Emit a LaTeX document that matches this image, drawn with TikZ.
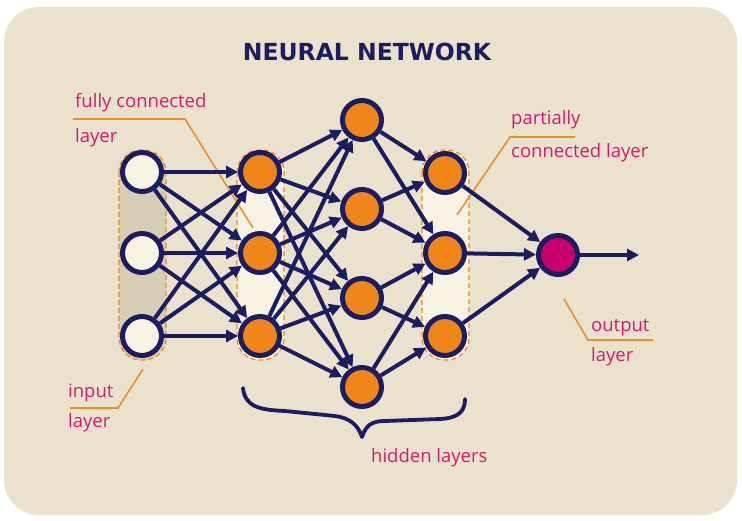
\documentclass[tikz,border=0pt]{standalone}
\usepackage{fontspec}
\setmainfont{Open Sans}
\newfontfamily\titlefont{DejaVu Sans}
\usetikzlibrary{arrows.meta}
\definecolor{bgc}{HTML}{EAE2CD}
\definecolor{navy}{HTML}{1B1D63}
\definecolor{orng}{HTML}{F0861A}
\definecolor{cream}{HTML}{F8F2E2}
\definecolor{bandin}{HTML}{D6CEB4}
\definecolor{outc}{HTML}{C8006E}
\definecolor{pink}{HTML}{D6196E}
\definecolor{oline}{HTML}{F08C28}
\tikzset{
  neuron/.style={circle, draw=navy, line width=5pt, minimum size=39pt, inner sep=0pt},
  innode/.style={neuron, fill=cream},
  hidnode/.style={neuron, fill=orng},
  outnode/.style={neuron, fill=outc},
  edge/.style={draw=navy, line width=4pt, -{Triangle[length=12pt,width=12pt]}},
  band/.style={draw=orng, line width=1.2pt, dash pattern=on 5pt off 3pt, rounded corners=22pt},
  lbl/.style={text=pink, font=\fontsize{18.5}{20}\selectfont, inner sep=0pt, anchor=base west},
  pointer/.style={draw=oline, line width=1.6pt},
  bracestyle/.style={draw=navy, line width=3.8pt, line cap=round, line join=round}
}
\begin{document}
\begin{tikzpicture}[x=1pt,y=-1pt]
\useasboundingbox (0,0) rectangle (742,521);
\fill[white] (0,0) rectangle (742,521);
\fill[bgc, rounded corners=35pt] (4,7) rectangle (737,515);
% title
\node[text=navy, font=\titlefont\bfseries\fontsize{23.5}{28}\selectfont, inner sep=0pt] (title) at (367,52) {NEURAL NETWORK};
% bands
\draw[band, fill=bandin] (119,150) rectangle (166,360);
\draw[band, fill=cream] (237,150) rectangle (284,360);
\draw[band, fill=cream] (422,150) rectangle (469,360);
% pointers
\draw[pointer] (73,119) -- (185,119) -- (253,228);
\draw[pointer] (70,408) -- (118,408) -- (143,369);
\draw[pointer] (575,137) -- (510,137) -- (457,215);
\draw[pointer] (564,299) -- (588,340) -- (653,340);
% nodes
\node[innode] (i1) at (142,172) {};
\node[innode] (i2) at (142,253) {};
\node[innode] (i3) at (142,336) {};
\node[hidnode] (a1) at (260,172) {};
\node[hidnode] (a2) at (260,253) {};
\node[hidnode] (a3) at (260,336) {};
\node[hidnode] (b1) at (362,120) {};
\node[hidnode] (b2) at (362,209) {};
\node[hidnode] (b3) at (362,298) {};
\node[hidnode] (b4) at (362,387) {};
\node[hidnode] (c1) at (445,173) {};
\node[hidnode] (c2) at (445,253) {};
\node[hidnode] (c3) at (445,336) {};
\node[outnode] (o) at (558,255) {};
\coordinate (oend) at (639,255);
% edges
\foreach \s in {i1,i2,i3}{\foreach \t in {a1,a2,a3}{\draw[edge] (\s) -- (\t);}}
\foreach \s in {a1,a2,a3}{\foreach \t in {b1,b2,b3,b4}{\draw[edge] (\s) -- (\t);}}
\draw[edge] (b1) -- (c1);
\draw[edge] (b1) -- (c2);
\draw[edge] (b2) -- (c1);
\draw[edge] (b2) -- (c2);
\draw[edge] (b3) -- (c2);
\draw[edge] (b3) -- (c3);
\draw[edge] (b4) -- (c2);
\draw[edge] (b4) -- (c3);
\foreach \s in {c1,c2,c3}{\draw[edge] (\s) -- (o);}
\draw[edge] (o) -- (oend);
% brace
\draw[bracestyle] (243,388) .. controls (245,407) and (260,410) .. (285,411) -- (335,416) .. controls (350,418) and (358,425) .. (362,437) .. controls (366,425) and (372,421) .. (385,421) -- (440,419) .. controls (460,418) and (465,410) .. (465,399);
% labels
\node[lbl] (l1) at (75,108) {fully connected};
\node[lbl] (l2) at (75,143) {layer};
\node[lbl] (l3) at (68,397) {input};
\node[lbl] (l4) at (68,428) {layer};
\node[lbl] (l5) at (371,462) {hidden layers};
\node[lbl] (l6) at (511,125) {partially};
\node[lbl] (l7) at (511,158) {connected layer};
\node[lbl] (l8) at (591,332) {output};
\node[lbl] (l9) at (591,362) {layer};
\end{tikzpicture}
\end{document}
